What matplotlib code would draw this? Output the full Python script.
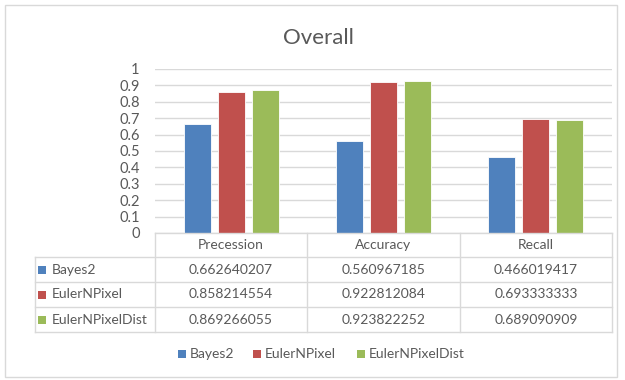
import matplotlib.pyplot as plt
from matplotlib.lines import Line2D
from matplotlib.patches import Rectangle

metrics = ['Precession', 'Accuracy', 'Recall']
series_names = ['Bayes2', 'EulerNPixel', 'EulerNPixelDist']
bayes2 = [0.662640207, 0.560967185, 0.466019417]
euler_npixel = [0.858214554, 0.922812084, 0.693333333]
euler_npixel_dist = [0.869266055, 0.923822252, 0.689090909]

colors = ['#4F81BD', '#C0504D', '#9BBB59']
text_color = '#595959'
grid_color = '#D9D9D9'

plt.rcParams['font.family'] = ['Lato', 'DejaVu Sans']

W, H = 625, 380


def fx(x):
    return x / W


def fy(y):
    return 1 - y / H


fig = plt.figure(figsize=(W / 100, H / 100), dpi=100)

# chart border
fig.add_artist(Rectangle((fx(5), fy(377)), fx(612), (372) / H, transform=fig.transFigure,
                         fill=False, edgecolor=grid_color, linewidth=1))

# plot area
left, right, top, bottom = 155, 612, 69, 233
ax = fig.add_axes([fx(left), fy(bottom), fx(right - left), (bottom - top) / H])

values = [bayes2, euler_npixel, euler_npixel_dist]
offsets = [-0.223, 0.0, 0.223]
for vals, off, col in zip(values, offsets, colors):
    xs = [i + off for i in range(len(metrics))]
    ax.bar(xs, vals, width=0.177, color=col, edgecolor='white', linewidth=0.6, zorder=3)

ax.set_xlim(-0.5, len(metrics) - 0.5)
ax.set_ylim(0, 1)
ax.set_yticks([i / 10 for i in range(11)])
ax.set_yticklabels(['0'] + [f'0.{i}' for i in range(1, 10)] + ['1'])
ax.set_xticks([])
ax.tick_params(axis='y', length=0, pad=11, labelsize=10.5, labelcolor=text_color)
ax.grid(axis='y', color=grid_color, linewidth=1, zorder=0)
for s in ax.spines.values():
    s.set_visible(False)

fig.text(0.51, fy(38), 'Overall', ha='center', va='center', fontsize=16,
         color=text_color)


# data table under the plot
def hline(y, x0, x1):
    fig.add_artist(Line2D([fx(x0), fx(x1)], [fy(y), fy(y)], transform=fig.transFigure,
                          color=grid_color, linewidth=1))


def vline(x, y0, y1):
    fig.add_artist(Line2D([fx(x), fx(x)], [fy(y0), fy(y1)], transform=fig.transFigure,
                          color=grid_color, linewidth=1))


col_edges = [155, 307, 460, 612]
row_edges = [233, 257, 282, 307, 332]
table_left = 35

hline(row_edges[0], col_edges[0], col_edges[-1])
for y in row_edges[1:]:
    hline(y, table_left, col_edges[-1])
vline(table_left, row_edges[1], row_edges[-1])
for x in col_edges:
    vline(x, row_edges[0], row_edges[-1])

fs = 10
for j, name in enumerate(metrics):
    cx = (col_edges[j] + col_edges[j + 1]) / 2
    fig.text(fx(cx), fy((row_edges[0] + row_edges[1]) / 2), name, ha='center', va='center',
             fontsize=fs, color=text_color)

for i, (name, vals, col) in enumerate(zip(series_names, values, colors)):
    cy = (row_edges[i + 1] + row_edges[i + 2]) / 2
    fig.add_artist(Rectangle((fx(38), fy(cy + 4)), fx(8), 8 / H, transform=fig.transFigure,
                             facecolor=col, edgecolor='none'))
    fig.text(fx(52), fy(cy), name, ha='left', va='center', fontsize=fs, color=text_color)
    for j, v in enumerate(vals):
        cx = (col_edges[j] + col_edges[j + 1]) / 2
        fig.text(fx(cx), fy(cy), f'{v:.9f}', ha='center', va='center',
                 fontsize=fs, color=text_color)

# legend
legend_x = [178, 253, 357]
for x, name, col in zip(legend_x, series_names, colors):
    fig.add_artist(Rectangle((fx(x), fy(358)), fx(8), 8 / H, transform=fig.transFigure,
                             facecolor=col, edgecolor='none'))
    fig.text(fx(x + 12), fy(354), name, ha='left', va='center', fontsize=fs, color=text_color)

fig.savefig('out.png', dpi=100)
